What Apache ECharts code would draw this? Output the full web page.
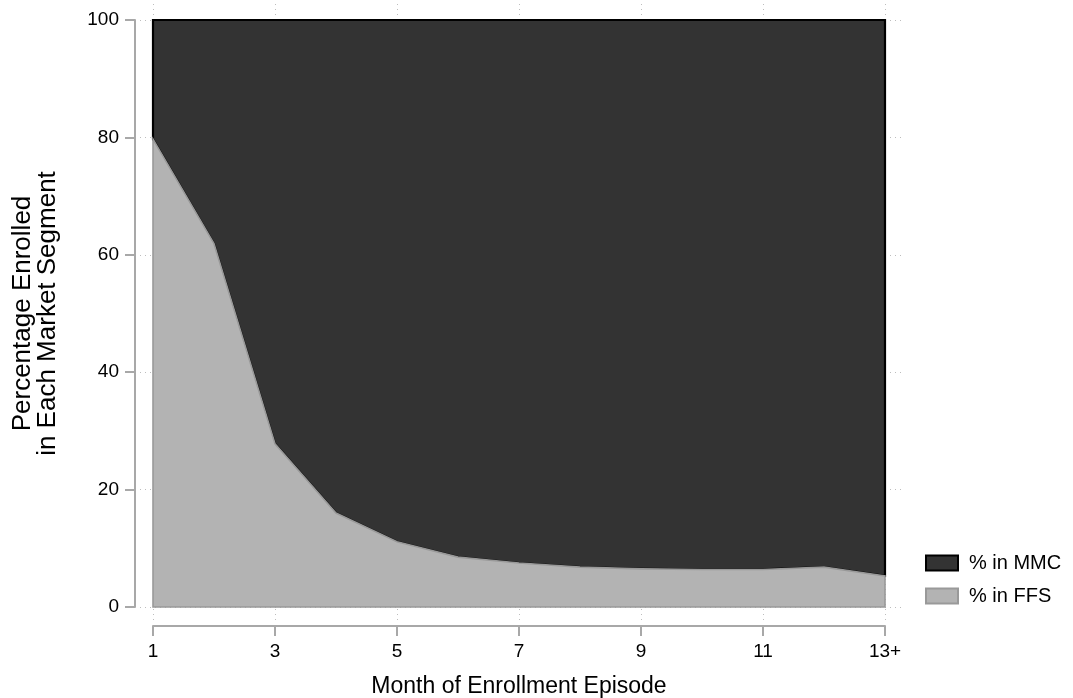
<!DOCTYPE html>
<html>
<head>
<meta charset="utf-8">
<script src="https://cdn.jsdelivr.net/npm/echarts@6/dist/echarts.min.js"></script>
<style>
html,body{margin:0;padding:0;background:#fff;}
#chart{width:1073px;height:698px;}
</style>
</head>
<body>
<div id="chart"></div>
<script>
// ---- data ----
const categories = ['1','2','3','4','5','6','7','8','9','10','11','12','13+'];
const ffsPct = [79.7, 61.9, 27.8, 16.0, 11.1, 8.5, 7.5, 6.8, 6.5, 6.4, 6.4, 6.8, 5.3];
const mmcPct = [20.3, 38.1, 72.2, 84.0, 88.9, 91.5, 92.5, 93.2, 93.5, 93.6, 93.6, 93.2, 94.7];
const yTicks = [0, 20, 40, 60, 80, 100];
const seriesNames = ['% in MMC', '% in FFS'];

const FONT = 'Liberation Sans, Arial, Helvetica, sans-serif';
const chart = echarts.init(document.getElementById('chart'), null, {renderer: 'canvas'});

function renderStack(which) {
  return function (params, api) {
    if (params.dataIndex !== 0) return null;
    const n = categories.length;
    const lower = [], upper = [];
    for (let i = 0; i < n; i++) {
      const base = which === 'ffs' ? 0 : ffsPct[i];
      const top = which === 'ffs' ? ffsPct[i] : ffsPct[i] + mmcPct[i];
      lower.push(api.coord([i, base]));
      upper.push(api.coord([i, top]));
    }
    const pts = upper.concat(lower.reverse());
    const st = which === 'ffs'
      ? {fill: '#b3b3b3', stroke: '#999999', lineWidth: 1.6}
      : {fill: '#333333', stroke: '#000000', lineWidth: 2.2};
    return {
      type: 'polygon',
      shape: {points: pts},
      style: Object.assign({lineJoin: 'miter'}, st)
    };
  };
}

const dotted = {color: '#bdbdbd', width: 1, type: [1, 4]};
const gridBase = {containLabel: false, outerBoundsMode: 'none'};

const option = {
  animation: false,
  textStyle: {fontFamily: FONT},
  grid: [
    Object.assign({left: 153, right: 188, top: 20, bottom: 91}, gridBase),
    Object.assign({left: 140, right: 168, top: 20, bottom: 91}, gridBase),
    Object.assign({left: 153, right: 188, top: 4, bottom: 78}, gridBase)
  ],
  legend: {
    orient: 'vertical',
    left: 920,
    top: 548,
    itemWidth: 32,
    itemHeight: 15,
    itemGap: 13,
    icon: 'rect',
    textStyle: {fontSize: 20, color: '#000', fontFamily: FONT, padding: [0, 0, 0, 6]},
    data: [
      {name: seriesNames[0], itemStyle: {color: '#333333', borderColor: '#000000', borderWidth: 2}},
      {name: seriesNames[1], itemStyle: {color: '#b3b3b3', borderColor: '#999999', borderWidth: 2}}
    ]
  },
  xAxis: [
    {
      gridIndex: 0, type: 'category', data: categories, boundaryGap: false,
      offset: 19,
      name: 'Month of Enrollment Episode', nameLocation: 'middle', nameGap: 49,
      nameTextStyle: {fontSize: 23, color: '#000', fontFamily: FONT},
      axisLine: {show: true, onZero: false, lineStyle: {color: '#a8a8a8', width: 2}},
      axisTick: {show: true, length: 10, interval: 1, lineStyle: {color: '#a8a8a8', width: 2}},
      axisLabel: {interval: 1, fontSize: 19, color: '#000', margin: 16, fontFamily: FONT},
      splitLine: {show: false}
    },
    {
      gridIndex: 1, type: 'value', min: 0, max: 1, show: false
    },
    {
      gridIndex: 2, type: 'category', data: categories, boundaryGap: false,
      axisLine: {show: false, onZero: false}, axisTick: {show: false}, axisLabel: {show: false},
      splitLine: {show: true, interval: 1, lineStyle: dotted}
    }
  ],
  yAxis: [
    {
      gridIndex: 0, type: 'value', min: yTicks[0], max: yTicks[yTicks.length - 1], interval: 20,
      offset: 18,
      name: 'Percentage Enrolled\nin Each Market Segment', nameLocation: 'middle', nameGap: 75,
      nameTextStyle: {fontSize: 26, color: '#000', fontFamily: FONT, lineHeight: 25},
      axisLine: {show: true, onZero: false, lineStyle: {color: '#a8a8a8', width: 2}},
      axisTick: {show: true, length: 10, lineStyle: {color: '#a8a8a8', width: 2}},
      axisLabel: {fontSize: 19, color: '#000', margin: 16, fontFamily: FONT},
      splitLine: {show: false}
    },
    {
      gridIndex: 1, type: 'value', min: yTicks[0], max: yTicks[yTicks.length - 1], interval: 20,
      axisLine: {show: false}, axisTick: {show: false}, axisLabel: {show: false},
      splitLine: {show: true, lineStyle: dotted}
    },
    {
      gridIndex: 2, type: 'value', min: 0, max: 1, show: false, splitLine: {show: false}
    }
  ],
  series: [
    {
      name: seriesNames[0], type: 'custom', xAxisIndex: 0, yAxisIndex: 0, z: 3,
      itemStyle: {color: '#333333', borderColor: '#000'},
      renderItem: renderStack('mmc'),
      data: mmcPct.map((v, i) => [i, v])
    },
    {
      name: seriesNames[1], type: 'custom', xAxisIndex: 0, yAxisIndex: 0, z: 4,
      itemStyle: {color: '#b3b3b3', borderColor: '#999'},
      renderItem: renderStack('ffs'),
      data: ffsPct.map((v, i) => [i, v])
    }
  ]
};
chart.setOption(option);
</script>
</body>
</html>
